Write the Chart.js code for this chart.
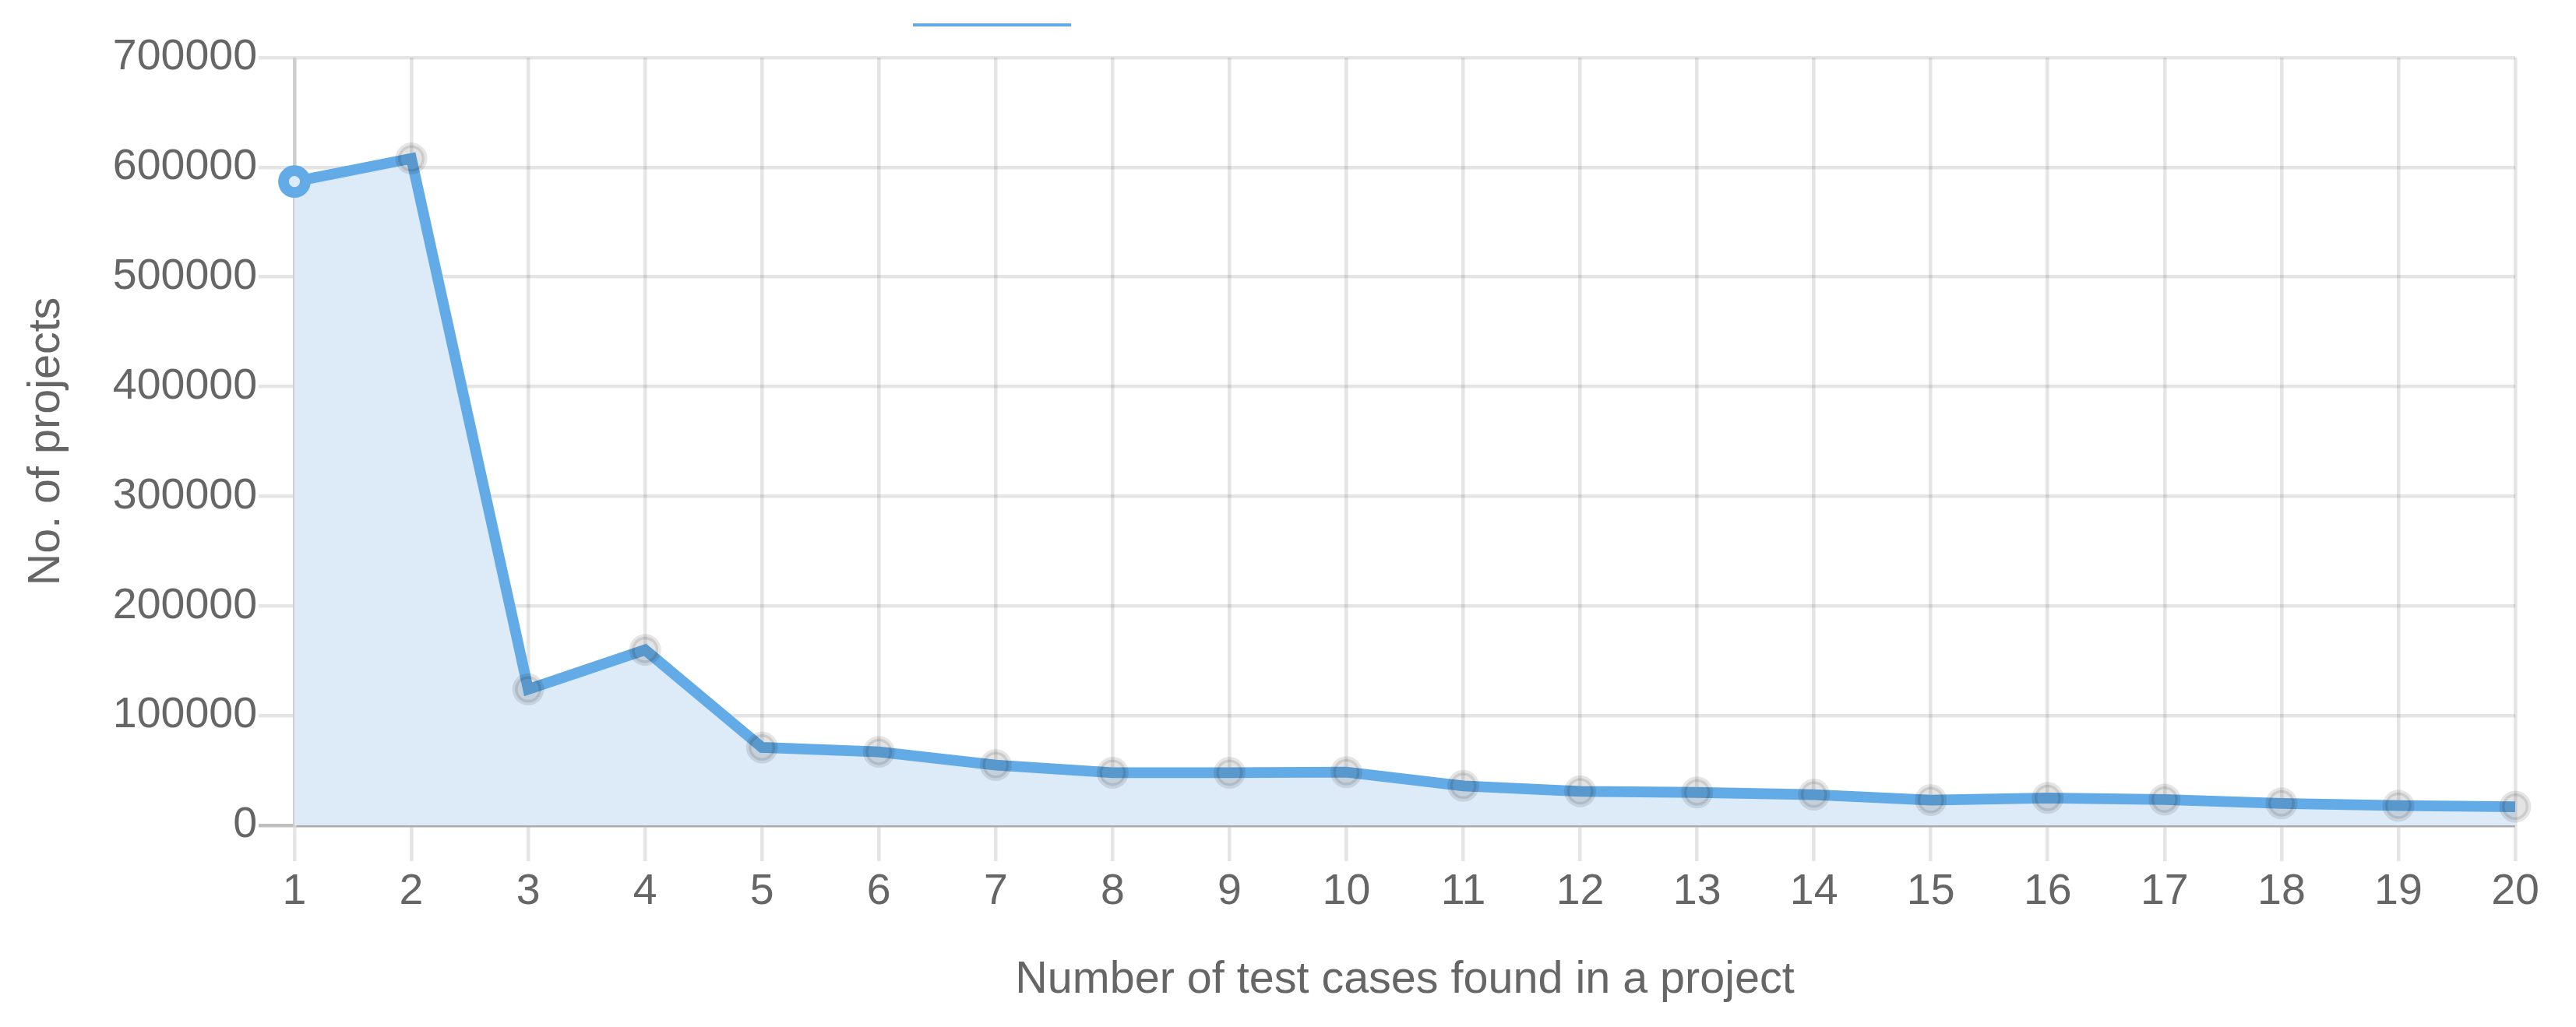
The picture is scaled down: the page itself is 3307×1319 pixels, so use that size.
<!DOCTYPE html>
<html>
<head>
<meta charset="utf-8">
<title>Test cases per project</title>
<script src="https://cdn.jsdelivr.net/npm/chart.js@4/dist/chart.umd.min.js"></script>
<style>
    html, body { margin: 0; padding: 0; background: #fff; }
    #grafica_casos { display: block; }
</style>
</head>
<body>
<canvas id="grafica_casos" width="3307" height="1319"></canvas>
<script>
// data
var arrayCasos = ['1','2','3','4','5','6','7','8','9','10','11','12','13','14','15','16','17','18','19','20'];
var arrayProyectos = [587000, 608000, 124000, 160000, 71000, 67000, 55000, 48000, 48000, 48500,
                      36000, 31000, 30000, 28000, 23000, 25000, 23500, 20000, 18000, 17000];
var ticksY = [0, 100000, 200000, 300000, 400000, 500000, 600000, 700000];

var colorLinea = 'rgb(99, 171, 230)';
var colorRelleno = 'rgb(221, 235, 249)';
var colorTexto = '#666';
var fuente = "'Liberation Sans', Arial, Helvetica, sans-serif";

var lineChart;

// the legend is cut off at the top of the picture, only the bottom edge of its box shows
var bordeLeyenda = {
    id: 'bordeLeyenda',
    afterDraw: function(chart){
        var ctx = chart.ctx;
        ctx.save();
        ctx.fillStyle = colorLinea;
        ctx.fillRect(chart.width * 0.3544, 30, chart.width * 0.0614, 4);
        ctx.restore();
    }
};

function graficaCasos(){
    var canvas = document.getElementById("grafica_casos");

    var dataCasos = {
        labels: arrayCasos,
        datasets: [{
            label: 'No. of projects',
            data: arrayProyectos,
            fill: 'origin',
            backgroundColor: colorRelleno,
            borderColor: colorLinea,
            borderWidth: 13.8,
            tension: 0,
            pointRadius: function(c){ return c.dataIndex === 0 ? 14 : 17; },
            pointBorderWidth: function(c){ return c.dataIndex === 0 ? 13.8 : 7; },
            pointBackgroundColor: function(c){ return c.dataIndex === 0 ? colorRelleno : 'rgba(0,0,0,0.11)'; },
            pointBorderColor: function(c){ return c.dataIndex === 0 ? colorLinea : 'rgba(0,0,0,0.1)'; }
        }]
    };

    var chartOptions = {
        responsive: false,
        devicePixelRatio: 1,
        animation: false,
        layout: {
            padding: {top: 74, right: 78, left: 0, bottom: 0}
        },
        plugins: {
            legend: {display: false},
            tooltip: {enabled: false}
        },
        scales: {
            x: {
                grid: {
                    color: 'rgba(0,0,0,0.1)',
                    lineWidth: 4.6,
                    tickLength: 46
                },
                border: {color: 'rgba(0,0,0,0.1)', width: 4.6},
                ticks: {
                    color: colorTexto,
                    padding: 6,
                    maxRotation: 0,
                    font: {family: fuente, size: 55.5}
                },
                title: {
                    display: true,
                    text: 'Number of test cases found in a project',
                    color: colorTexto,
                    padding: {top: 4, bottom: 25.5},
                    font: {family: fuente, size: 57.5}
                },
                afterFit: function(scale){ scale.height = 259; }
            },
            y: {
                min: 0,
                max: 700000,
                afterBuildTicks: function(scale){
                    scale.ticks = ticksY.map(function(v){ return {value: v}; });
                },
                grid: {
                    color: function(c){ return c.tick && c.tick.value === 0 ? 'rgba(0,0,0,0.25)' : 'rgba(0,0,0,0.1)'; },
                    lineWidth: 4.6,
                    tickLength: 46
                },
                border: {color: 'rgba(0,0,0,0.1)', width: 4.6},
                ticks: {
                    color: colorTexto,
                    padding: 2,
                    font: {family: fuente, size: 55.5},
                    callback: function(value){ return String(value); }
                },
                title: {
                    display: true,
                    text: 'No. of projects',
                    color: colorTexto,
                    padding: {top: 25.5, bottom: 4},
                    font: {family: fuente, size: 57.5}
                },
                afterFit: function(scale){ scale.width = 378; }
            }
        }
    };

    if(lineChart!=null){
        lineChart.destroy();
    }

    lineChart = new Chart(canvas, {
        type: 'line',
        data: dataCasos,
        options: chartOptions,
        plugins: [bordeLeyenda]
    });
}

graficaCasos();
</script>
</body>
</html>
